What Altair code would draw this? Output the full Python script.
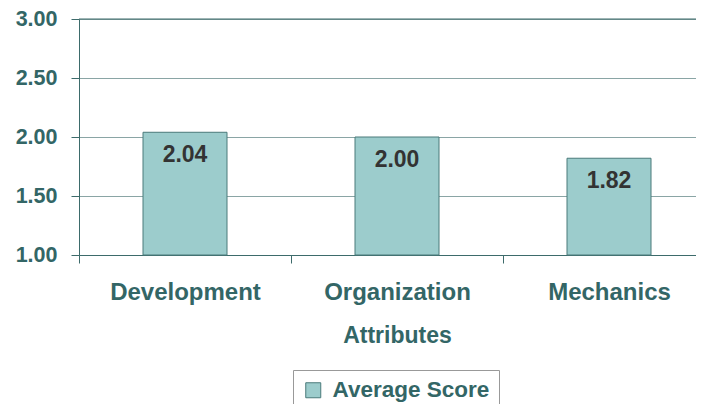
import altair as alt
import pandas as pd

categories = ["Development", "Organization", "Mechanics"]
scores = [2.04, 2.00, 1.82]
series = ["Average Score", "Average Score", "Average Score"]
y_ticks = [1.0, 1.5, 2.0, 2.5, 3.0]
y_min, y_max = 1.0, 3.0

df = pd.DataFrame({"Attribute": categories, "Score": scores, "Series": series})
top_df = pd.DataFrame({"v": [y_max]})

TEAL = "#336666"
AXIS = "#3d6b6b"
GRID = "#8aa5a5"
FILL = "#9ccccc"
BSTROKE = "#4a7a7a"
FONT = "Liberation Sans"

x_enc = alt.X(
    "Attribute:N",
    sort=categories,
    scale=alt.Scale(paddingInner=0, paddingOuter=0, range=[0, 636]),
    axis=alt.Axis(
        title="Attributes",
        titleX=318,
        labelAngle=0,
        tickBand="extent",
        tickSize=8,
        labelPadding=17,
        titlePadding=20,
        labelFontSize=24,
        titleFontSize=23,
    ),
)
y_enc = alt.Y(
    "Score:Q",
    scale=alt.Scale(domain=[y_min, y_max], zero=False, nice=False),
    axis=alt.Axis(
        title=None,
        values=y_ticks,
        format=".2f",
        tickSize=8,
        labelPadding=14,
        labelFontSize=21.5,
        grid=True,
        gridColor=GRID,
    ),
)

bars = alt.Chart(df).mark_bar(size=84, stroke=BSTROKE, strokeWidth=1).encode(
    x=x_enc,
    y=y_enc,
    y2=alt.datum(y_min),
    color=alt.Color(
        "Series:N",
        scale=alt.Scale(range=[FILL]),
        legend=alt.Legend(
            title=None,
            orient="none",
            legendX=214,
            legendY=351,
            symbolType="square",
            symbolSize=225,
            symbolStrokeColor=BSTROKE,
            symbolStrokeWidth=1,
            labelFontSize=22.5,
            labelFont=FONT,
            labelFontWeight="bold",
            labelColor=TEAL,
            labelOffset=8,
            strokeColor="#999999",
            padding=9,
        ),
    ),
)

labels = alt.Chart(df).mark_text(
    baseline="top", dy=12, fontSize=23, fontWeight="bold", font=FONT, color="#333333"
).encode(
    x=alt.X("Attribute:N", sort=categories),
    y=alt.Y("Score:Q"),
    text=alt.Text("Score:Q", format=".2f"),
)

top_rule = alt.Chart(top_df).mark_rule(color=AXIS, strokeWidth=1).encode(
    y=alt.Y("v:Q")
)

chart = (
    alt.layer(bars, top_rule, labels)
    .properties(
        width=617,
        height=236,
        autosize=alt.AutoSizeParams(type="none"),
        padding={"left": 71, "top": 11, "right": 0, "bottom": 149},
    )
    .configure_view(stroke=None)
    .configure_axis(
        domainColor=AXIS,
        tickColor=AXIS,
        labelColor=TEAL,
        titleColor=TEAL,
        labelFont=FONT,
        titleFont=FONT,
        labelFontWeight="bold",
        titleFontWeight="bold",
    )
)

chart.save("out.html", embed_options={"renderer": "svg", "actions": False})
